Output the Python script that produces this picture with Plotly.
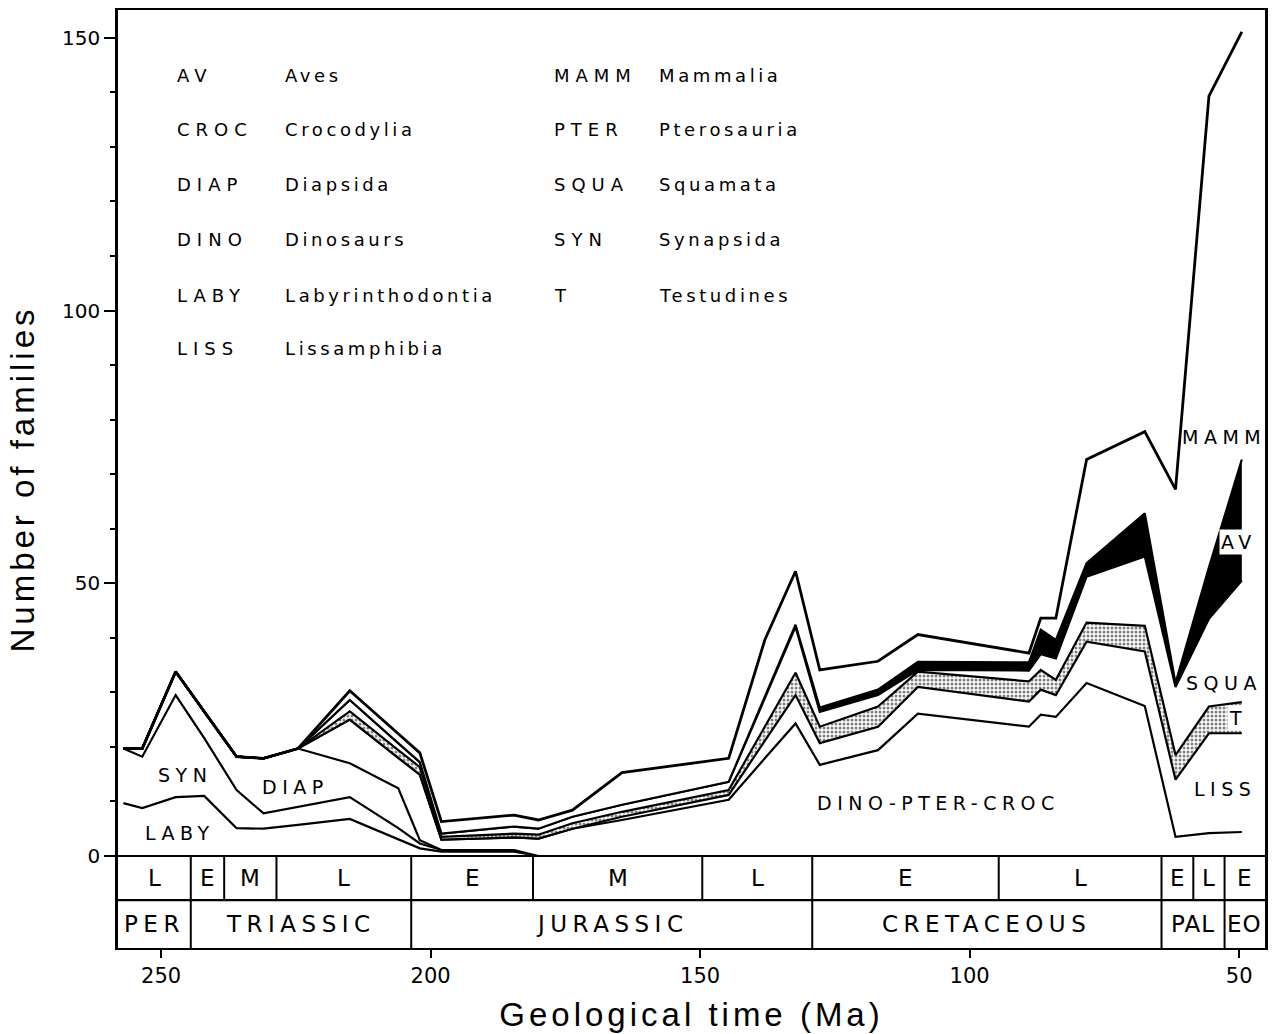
import plotly.graph_objects as go

# ---- time points (Ma) ----
ma = [257, 253.5, 247.3, 242, 236, 231, 224.6, 215, 206, 202, 198, 184.5, 180, 173.7,
      164.5, 144.7, 138, 132.3, 127.8, 117, 109.6, 89, 86.8, 84, 78.3, 67.5, 61.8, 55.6, 49.5]

# ---- number of families per group (stacked from bottom) ----
laby = [9.7, 8.8, 10.8, 11.0, 5.1, 5.0, 5.7, 6.8, 3.1, 1.4, 0.8, 0.8, 0, 0,
        0, 0, 0, 0, 0, 0, 0, 0, 0, 0, 0, 0, 0, 0, 0]
syn = [10.0, 9.4, 18.7, 10.6, 7.0, 2.8, 3.3, 4.0, 2.0, 0.9, 0.3, 0.3, 0, 0,
       0, 0, 0, 0, 0, 0, 0, 0, 0, 0, 0, 0, 0, 0, 0]
diap = [0, 1.5, 4.3, 4.8, 6.1, 10.1, 10.7, 6.2, 7.3, 0.6, 0, 0, 0, 0,
        0, 0, 0, 0, 0, 0, 0, 0, 0, 0, 0, 0, 0, 0, 0]
dpc = [0, 0, 0, 0, 0, 0, 0, 8.0, 5.6, 12.0, 1.9, 2.3, 3.2, 5.0,
       6.6, 10.3, 17.9, 24.3, 16.7, 19.4, 26.1, 23.7, 25.9, 25.5, 31.7, 27.5, 3.5, 4.2, 4.4]
liss = [0, 0, 0, 0, 0, 0, 0, 0, 0, 0, 0, 0, 0, 0,
        0.6, 0.9, 3.2, 5.2, 4.0, 4.3, 4.9, 4.6, 4.6, 4.0, 7.6, 10.0, 10.5, 18.3, 18.1]
testud = [0, 0, 0, 0, 0, 0, 0, 1.5, 1.4, 1.4, 0.5, 0.7, 0.7, 1.0,
          0.9, 0.9, 2.6, 4.1, 3.0, 3.7, 2.8, 3.7, 3.6, 2.8, 3.5, 4.7, 4.5, 4.9, 5.7]
squa = [0, 0, 0, 0, 0, 0, 0, 2.1, 1.3, 0.9, 0.6, 1.3, 1.1, 1.2,
        1.3, 1.5, 5.2, 8.4, 2.7, 2.1, 0.3, 2.0, 2.9, 3.9, 8.4, 12.7, 12.5, 16.1, 22.3]
aves = [0, 0, 0, 0, 0, 0, 0, 0, 0, 0, 0, 0, 0, 0,
        0, 0, 0.3, 0.4, 0.8, 1.0, 1.5, 1.5, 4.5, 3.4, 2.5, 7.9, 0.7, 9.4, 22.2]
mamm = [0, 0, 0, 0, 0, 0, 0, 1.7, 1.7, 1.7, 2.2, 2.1, 1.6, 1.2,
        5.9, 4.3, 10.4, 9.8, 6.9, 5.2, 5.0, 1.7, 2.1, 4.0, 19.0, 15.0, 35.5, 86.4, 78.4]

# ---- geological time scale ----
stage_bounds = [258, 244.5, 238.3, 228.6, 203.6, 181.0, 149.6, 129.2, 94.6, 64.4, 58.5, 52.7, 45.2]
stage_names = ['L', 'E', 'M', 'L', 'E', 'M', 'L', 'E', 'L', 'E', 'L', 'E']
period_bounds = [258, 244.5, 203.6, 129.2, 64.4, 52.7, 45.2]
period_names = ['PER', 'TRIASSIC', 'JURASSIC', 'CRETACEOUS', 'PAL', 'EO']

# ---- key ----
key_abbr_left = ['AV', 'CROC', 'DIAP', 'DINO', 'LABY', 'LISS']
key_name_left = ['Aves', 'Crocodylia', 'Diapsida', 'Dinosaurs', 'Labyrinthodontia', 'Lissamphibia']
key_abbr_right = ['MAMM', 'PTER', 'SQUA', 'SYN', 'T']
key_name_right = ['Mammalia', 'Pterosauria', 'Squamata', 'Synapsida', 'Testudines']

X0, X1 = 258, 45.2
Y0, Y1 = -16.87, 155.1
ROW = -8.1

FONT = 'DejaVu Sans'


def sp(text, ls):
    return f'<span style="letter-spacing:{ls}px">{text}</span>'


fig = go.Figure()
groups = [
    (laby, 'white', None, 2.2),
    (syn, 'white', None, 2.2),
    (diap, 'white', None, 2.2),
    (dpc, 'white', None, 2.2),
    (liss, 'white', None, 2.2),
    (testud, 'white', dict(shape='.', fgcolor='black', bgcolor='white', size=4, solidity=0.45), 2.2),
    (squa, 'white', None, 2.2),
    (aves, 'black', None, 2.2),
    (mamm, 'white', None, 2.8),
]
for vals, fc, pat, lw in groups:
    kw = dict(x=ma, y=vals, mode='lines', stackgroup='one', fillcolor=fc,
              line=dict(color='black', width=lw), hoverinfo='skip')
    if pat:
        kw['fillpattern'] = pat
    fig.add_trace(go.Scatter(**kw))

shapes = []
for yv in (0, ROW):
    shapes.append(dict(type='line', xref='paper', yref='y', x0=0, x1=1, y0=yv, y1=yv,
                       line=dict(color='black', width=2.2), layer='above'))
for b in stage_bounds[1:-1]:
    shapes.append(dict(type='line', xref='x', yref='y', x0=b, x1=b, y0=ROW, y1=0,
                       line=dict(color='black', width=2), layer='above'))
for b in period_bounds[1:-1]:
    shapes.append(dict(type='line', xref='x', yref='y', x0=b, x1=b, y0=Y0, y1=ROW,
                       line=dict(color='black', width=2), layer='above'))

ann = []
for i, nm in enumerate(stage_names):
    xc = (stage_bounds[i] + stage_bounds[i + 1]) / 2
    ann.append(dict(x=xc, y=ROW / 2, xref='x', yref='y', text=nm, showarrow=False,
                    font=dict(family=FONT, size=23, color='black'), xanchor='center', yanchor='middle'))
for i, nm in enumerate(period_names):
    xc = (period_bounds[i] + period_bounds[i + 1]) / 2
    ls = 1 if nm in ('PAL', 'EO') else 5.5
    ann.append(dict(x=xc, y=(ROW + Y0) / 2, xref='x', yref='y', text=sp(nm, ls), showarrow=False,
                    font=dict(family=FONT, size=23, color='black'), xanchor='center', yanchor='middle'))


def pxx(px):
    return (px - 118) / 1150


def pxy(py):
    return (948 - py) / 938


rows_y = [75, 129, 184, 240, 295, 349]
KEY = dict(family=FONT, size=18, color='black')
for i, (a, n) in enumerate(zip(key_abbr_left, key_name_left)):
    ann.append(dict(x=pxx(175), y=pxy(rows_y[i]), xref='paper', yref='paper', text=sp(a, 6),
                    showarrow=False, font=KEY, xanchor='left', yanchor='middle'))
    ann.append(dict(x=pxx(283), y=pxy(rows_y[i]), xref='paper', yref='paper', text=sp(n, 3.6),
                    showarrow=False, font=KEY, xanchor='left', yanchor='middle'))
for i, (a, n) in enumerate(zip(key_abbr_right, key_name_right)):
    ann.append(dict(x=pxx(553), y=pxy(rows_y[i]), xref='paper', yref='paper', text=sp(a, 6),
                    showarrow=False, font=KEY, xanchor='left', yanchor='middle'))
    ann.append(dict(x=pxx(658), y=pxy(rows_y[i]), xref='paper', yref='paper', text=sp(n, 3.6),
                    showarrow=False, font=KEY, xanchor='left', yanchor='middle'))

# in-chart group labels
labels = [
    ('SYN', 245.6, 14.8, 'center', None),
    ('DIAP', 225.0, 12.6, 'center', None),
    ('LABY', 246.5, 4.2, 'center', None),
    ('DINO-PTER-CROC', 105.7, 9.7, 'center', None),
    ('MAMM', 60.9, 76.8, 'left', None),
    ('AV', 50.1, 57.6, 'center', 'white'),
    ('SQUA', 60.2, 31.7, 'left', None),
    ('T', 50.2, 25.3, 'center', 'white'),
    ('LISS', 58.7, 12.3, 'left', None),
]
for t, xv, yv, xa, bg in labels:
    d = dict(x=xv, y=yv, xref='x', yref='y', text=sp(t, 5.5), showarrow=False,
             font=dict(family=FONT, size=19, color='black'), xanchor=xa, yanchor='middle')
    if bg:
        d['bgcolor'] = bg
        d['borderpad'] = 1
    ann.append(d)

fig.update_layout(
    width=1272, height=1034,
    margin=dict(l=118, r=4, t=10, b=86),
    plot_bgcolor='white', paper_bgcolor='white',
    showlegend=False,
    shapes=shapes, annotations=ann,
    xaxis=dict(range=[X0, X1], tickvals=[250, 200, 150, 100, 50], ticks='outside', ticklen=8,
               tickwidth=1.5, tickcolor='black', showline=True, linecolor='black', linewidth=2.2,
               mirror=True, showgrid=False, zeroline=False,
               tickfont=dict(family=FONT, size=21, color='black'),
               title=dict(text=sp('Geological time (Ma)', 4), standoff=16,
                          font=dict(family='Liberation Sans', size=33, color='black'))),
    yaxis=dict(range=[Y0, Y1], tickvals=[0, 50, 100, 150], ticks='outside', ticklen=11,
               tickwidth=1.5, tickcolor='black', showline=True, linecolor='black', linewidth=2.5,
               mirror=True, showgrid=False, zeroline=False,
               minor=dict(tickvals=[10, 20, 30, 40, 60, 70, 80, 90, 110, 120, 130, 140],
                          ticks='outside', ticklen=5, tickwidth=1.5, tickcolor='black', showgrid=False),
               tickfont=dict(family=FONT, size=20, color='black'),
               title=dict(text=sp('Number of families', 4), standoff=18,
                          font=dict(family='Liberation Sans', size=33, color='black'))),
)

fig.write_html('out.html')
